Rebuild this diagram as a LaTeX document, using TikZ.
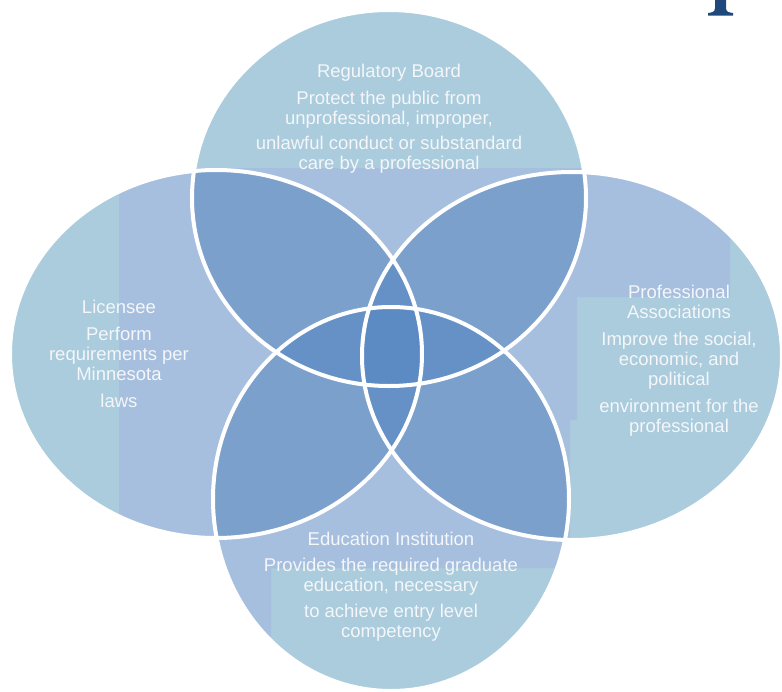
\documentclass[tikz,border=0pt]{standalone}
\usepackage{fontspec}
\setmainfont{Liberation Sans}
\definecolor{outerblue}{RGB}{170,204,220}
\definecolor{panelblue}{RGB}{167,191,222}
\definecolor{petalblue}{RGB}{123,160,204}
\definecolor{triblue}{RGB}{101,145,198}
\definecolor{coreblue}{RGB}{92,138,194}
\definecolor{labeltext}{RGB}{244,246,250}
\definecolor{titleblue}{RGB}{31,73,125}
\begin{document}
\begin{tikzpicture}[x=1pt, y=-1pt,
    topc/.style={insert path={(389,198) ellipse [x radius=197pt, y radius=188pt]}},
    leftc/.style={insert path={(216,354) ellipse [x radius=206pt, y radius=184pt]}},
    rightc/.style={insert path={(572,356) ellipse [x radius=210pt, y radius=184pt]}},
    botc/.style={insert path={(391,499) ellipse [x radius=178pt, y radius=192pt]}},
    rim/.style={draw=white, line width=4pt},
    caption/.style={anchor=north, inner sep=0pt, align=center,
      text=labeltext, font=\fontsize{18.5}{20}\selectfont},
    ]
  \useasboundingbox (0,0) rectangle (782,691);

  % circles
  \fill[outerblue, topc];
  \fill[outerblue, leftc];
  \fill[outerblue, rightc];
  \fill[outerblue, botc];

  % text panels
  \begin{scope}
    \clip[leftc];
    \fill[panelblue] (119,165) rectangle (430,545);
  \end{scope}
  \begin{scope}
    \clip[topc];
    \fill[panelblue] (180,168) rectangle (600,400);
  \end{scope}
  \begin{scope}
    \clip[rightc];
    \fill[panelblue] (355,165) rectangle (730,297)
      (355,297) rectangle (577,420) (355,420) rectangle (570,545);
  \end{scope}
  \begin{scope}
    \clip[botc];
    \fill[panelblue] (200,300) rectangle (585,568) (200,568) rectangle (271,643);
  \end{scope}

  % overlaps
  \foreach \a/\b in {topc/leftc, topc/rightc, botc/leftc, botc/rightc, leftc/rightc, topc/botc} {
    \begin{scope}
      \clip[\a];
      \fill[petalblue, \b];
    \end{scope}
  }
  \foreach \a/\b/\c in {leftc/rightc/topc, leftc/rightc/botc, topc/botc/leftc, topc/botc/rightc} {
    \begin{scope}
      \clip[\a];
      \clip[\b];
      \fill[triblue, \c];
    \end{scope}
  }
  \begin{scope}
    \clip[leftc];
    \clip[rightc];
    \clip[topc];
    \fill[coreblue, botc];
  \end{scope}

  % white rims
  \draw[rim, topc];
  \draw[rim, leftc];
  \draw[rim, rightc];
  \draw[rim, botc];

  \node[caption] (reg) at (389,63.5) {Regulatory Board\\[7pt]
    Protect the public from\\unprofessional, improper,\\[5pt]
    unlawful conduct or substandard\\care by a professional};
  \node[caption] (lic) at (119,299.7) {Licensee\\[7pt]
    Perform\\requirements per\\Minnesota\\[7pt]laws};
  \node[caption] (prof) at (679,284.5) {Professional\\Associations\\[7pt]
    Improve the social,\\economic, and\\political\\[7pt]
    environment for the\\professional};
  \node[caption] (edu) at (391,531.5) {Education Institution\\[6pt]
    Provides the required graduate\\education, necessary\\[6pt]
    to achieve entry level\\competency};

  % cut title letter
  \fill[titleblue] (715,0) -- (726,0) -- (726,8)
    .. controls (726,12) and (729,12.5) .. (733,13) -- (733,15.5)
    -- (708,15.5) -- (708,13)
    .. controls (712,12.5) and (715,12) .. (715,8) -- cycle;
\end{tikzpicture}
\end{document}
